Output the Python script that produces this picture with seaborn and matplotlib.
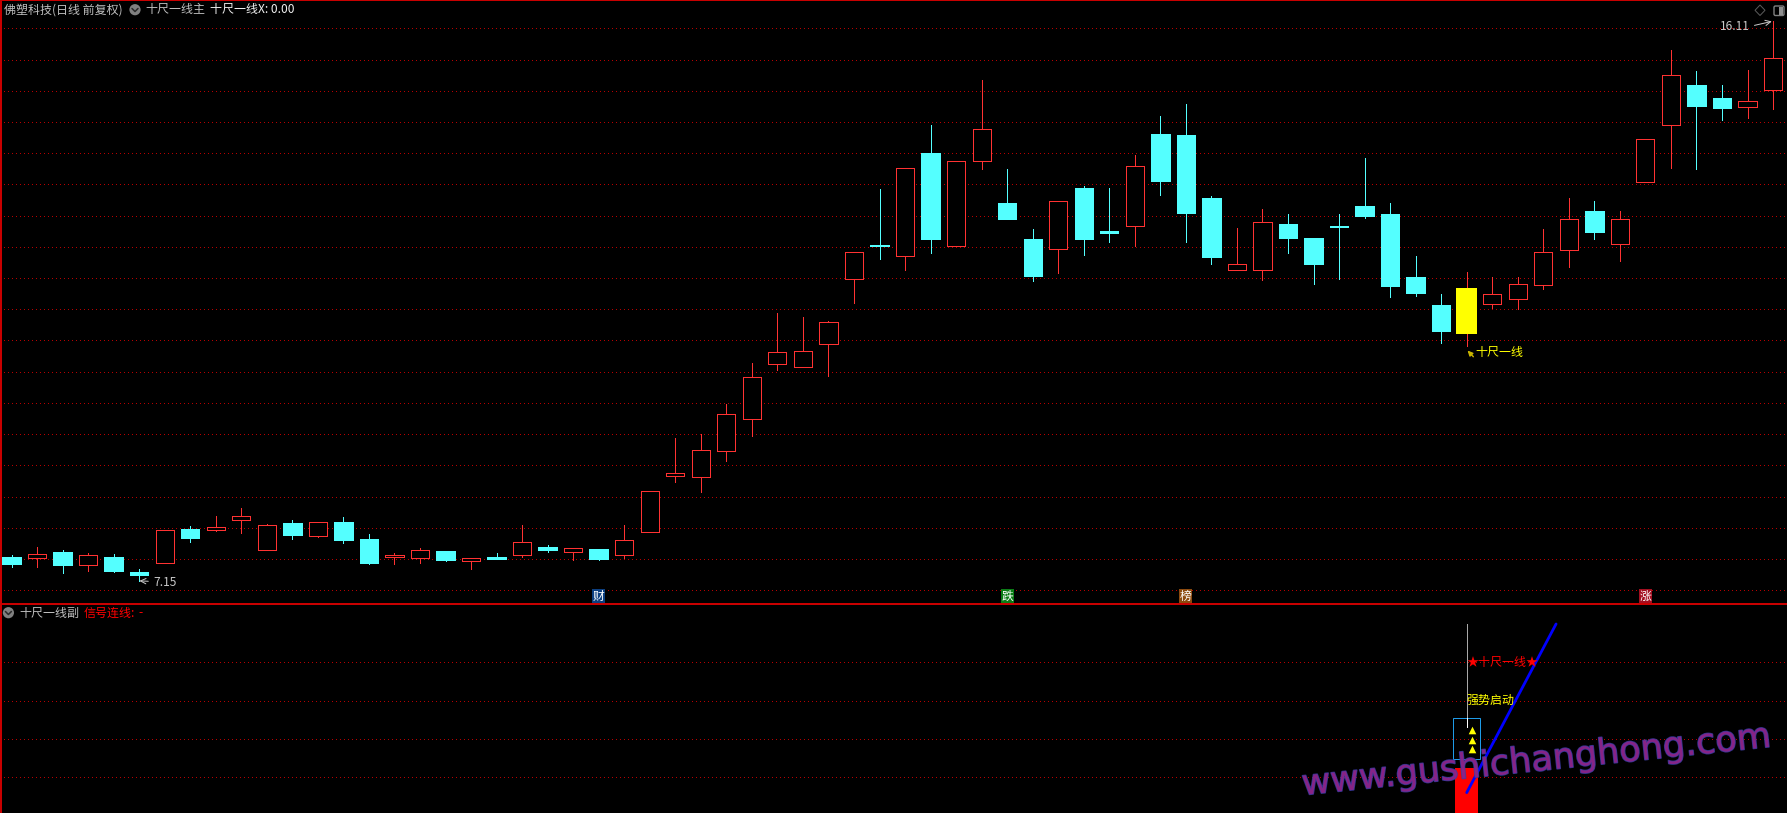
import numpy as np
import pandas as pd
import matplotlib
matplotlib.use("Agg")
import matplotlib.pyplot as plt
import matplotlib.patheffects as pe
from matplotlib.patches import Rectangle, Circle, Polygon, FancyBboxPatch
import seaborn as sns

# ---- daily candles (prices) ----
opens = [7.53,7.52,7.61,7.40,7.53,7.29,7.43,7.98,7.97,8.13,7.65,8.08,7.87,8.09,7.82,7.53,7.51,7.63,7.47,7.53,
         7.56,7.69,7.62,7.66,7.56,7.93,8.83,8.81,9.23,9.74,10.62,10.57,10.94,11.98,12.53,12.35,14.01,12.52,13.88,13.20,
         12.62,12.46,13.44,12.75,12.83,14.30,14.29,13.29,12.13,12.13,12.86,12.64,12.83,13.15,13.02,12.01,11.57,11.10,11.59,11.67,
         11.89,12.45,13.07,12.54,13.54,14.45,15.09,14.89,14.74,15.01]
closes = [7.42,7.58,7.41,7.56,7.31,7.25,7.96,7.84,8.01,8.19,8.04,7.89,8.09,7.81,7.44,7.57,7.65,7.49,7.52,7.50,
          7.77,7.65,7.68,7.50,7.80,8.59,8.87,9.24,9.82,10.41,10.81,10.83,11.29,12.41,12.51,13.77,12.62,13.88,14.38,12.94,
          12.03,13.23,12.62,12.72,13.79,13.55,13.04,12.33,12.22,12.89,12.64,12.22,12.82,12.99,11.87,11.76,11.15,11.84,11.74,11.90,
          12.41,12.94,12.73,12.94,14.23,15.26,14.75,14.72,14.83,15.53]
highs = [7.57,7.69,7.65,7.60,7.58,7.34,7.96,8.03,8.19,8.32,8.06,8.13,8.09,8.17,7.90,7.60,7.68,7.63,7.52,7.60,
         8.05,7.73,7.68,7.66,8.05,8.59,9.44,9.50,9.98,10.64,11.44,11.37,11.32,12.41,13.42,13.77,14.45,13.88,15.18,13.74,
         12.78,13.23,13.47,13.45,13.97,14.59,14.78,13.31,12.80,13.10,13.02,12.64,13.02,13.92,13.21,12.35,11.74,12.09,12.01,12.01,
         12.78,13.29,13.23,13.07,14.23,15.65,15.31,15.09,15.33,16.11]
lows = [7.37,7.37,7.27,7.31,7.29,7.15,7.43,7.77,7.95,7.92,7.65,7.82,7.85,7.76,7.42,7.42,7.44,7.47,7.34,7.50,
        7.53,7.61,7.49,7.49,7.52,7.93,8.74,8.58,9.07,9.47,10.53,10.57,10.43,11.60,12.30,12.13,12.40,12.52,13.74,12.94,
        11.95,12.08,12.37,12.57,12.51,13.33,12.57,12.22,12.13,11.97,12.40,11.90,11.98,12.96,11.69,11.71,10.96,10.91,11.52,11.50,
        11.82,12.17,12.62,12.27,13.54,13.76,13.74,14.53,14.56,14.70]
signal_index = 57
grid_prices = [16.0,15.5,15.0,14.5,14.0,13.5,13.0,12.5,12.0,11.5,11.0,10.5,10.0,9.5,9.0,8.5,8.0,7.5,7.0]

# ---- event badges ----
badge_labels = ["财","跌","榜","涨"]
badge_index = [23,39,46,64]
badge_colors = ["#0C3F80","#0B7D16","#8C4A0E","#A30F20"]

# ---- lower panel ----
lower_grid = [80,60,40,20]
signal_bar = 25
trend_x = [57,60.5]
trend_y = [12,100]
stem_top, stem_bottom = 100, 46.4
box_low, box_high = 29.4, 51
arrows_x = [57.2,57.2,57.2]
arrows_y = [44.8,39.6,34.9]

RED, CYAN, YEL, GRID = "#FF3232", "#54FFFF", "#FFFF00", "#B80000"
W, H = 1787, 813
PITCH, X0 = 25.53, 11.5

sns.set_theme(style="dark", rc={"figure.facecolor":"black","axes.facecolor":"black","savefig.facecolor":"black",
                                "axes.edgecolor":"black","text.color":"#C0C0C0"})
plt.rcParams["font.family"] = ["Noto Sans CJK SC","DejaVu Sans"]
FS = 8.64
LW = 0.72

df = pd.DataFrame({"open":opens,"high":highs,"low":lows,"close":closes})
df["i"] = np.arange(len(df))
df["up"] = df.close >= df.open

fig = plt.figure(figsize=(W/100,H/100), dpi=100)
ax = fig.add_axes([0,(H-604)/H,1,604/H])
ax2 = fig.add_axes([0,0,1,(H-605)/H])
ov = fig.add_axes([0,0,1,1], zorder=10)
xlim = (-X0/PITCH,(W-X0)/PITCH)
ax.set_xlim(xlim); ax.set_ylim(16-(604-28.3)/62.44,16+28.3/62.44)
ax2.set_xlim(xlim); ax2.set_ylim(1.37,109.9)
ov.set_xlim(0,W); ov.set_ylim(H,0); ov.axis("off"); ov.patch.set_alpha(0)

for a,ticks in ((ax,grid_prices),(ax2,lower_grid)):
    a.set_xticks([]); a.set_yticks(ticks); a.tick_params(left=False,labelleft=False)
    a.grid(False)
    for t in ticks:
        a.axhline(t,color=GRID,lw=LW,ls=(0,(1,3)),zorder=1,antialiased=False)
    sns.despine(ax=a,left=True,bottom=True)

# candles
for up,col,g in ((True,RED,df[df.up]),(False,CYAN,df[~df.up])):
    ax.vlines(g.i,g.low,g.high,color=col,lw=LW,zorder=2,antialiased=False)
up = df[df.up & (df.i!=signal_index)]
dn = df[~df.up]
ax.bar(up.i,up.close-up.open,bottom=up.open,width=0.71,facecolor="black",edgecolor=RED,lw=LW,zorder=3,antialiased=False)
ax.bar(dn.i,dn.open-dn.close,bottom=dn.close,width=0.72,facecolor=CYAN,edgecolor=CYAN,lw=LW,zorder=3,antialiased=False)
s = df.iloc[signal_index]
ax.bar([s.i],[s.close-s.open],bottom=[s.open],width=0.82,color=YEL,lw=0,zorder=3)

# price marks
arrow = dict(arrowstyle="->,head_length=0.45,head_width=0.22",color="#C8C8C8",lw=LW,shrinkB=0)
ax.annotate("16.11",xy=(68.95,16.11),xytext=(66.92,16.03),fontsize=FS,color="#C8C8C8",va="center",ha="left",
            arrowprops=dict(arrow,relpos=(1,0.5),shrinkA=1),zorder=6)
ax.annotate("7.15",xy=(5.01,7.15),xytext=(5.54,7.12),fontsize=FS,color="#C8C8C8",va="center",ha="left",
            arrowprops=dict(arrow,relpos=(0,0.6),shrinkA=1),zorder=6)
ax.annotate("",xy=(57.03,10.84),xytext=(57.26,10.74),
            arrowprops=dict(arrowstyle="-|>,head_length=0.25,head_width=0.12",color="#C8B400",lw=1,shrinkA=0,shrinkB=0),zorder=6)
ax.text(57.33,10.80,"十尺一线",fontsize=FS,color=YEL,va="center",ha="left",zorder=6)

# badges
for idx,lab,c in zip(badge_index,badge_labels,badge_colors):
    ax.text(idx,6.90,lab,fontsize=8.5,color="white",ha="center",va="center",zorder=6,
            bbox=dict(boxstyle="square,pad=0.06",fc=c,ec="none"))

# lower panel
ax2.bar([signal_index],[signal_bar],width=0.9,color="#FF0000",lw=0,zorder=3)
ax2.vlines(signal_index,stem_bottom,stem_top,color="#A8A8A8",lw=LW,zorder=4,antialiased=False)
ax2.vlines(signal_index,stem_bottom,box_high,color="white",lw=LW,zorder=5,antialiased=False)
ax2.add_patch(Rectangle((signal_index-0.525,box_low),1.035,box_high-box_low,fc="none",ec="#1E9BE8",lw=LW,zorder=4))
sns.scatterplot(x=arrows_x,y=arrows_y,ax=ax2,marker="^",color=YEL,s=30,linewidth=0,zorder=5,legend=False)
sns.lineplot(x=trend_x,y=trend_y,ax=ax2,color="#0000FF",lw=2.0,zorder=6,legend=False,errorbar=None)
ax2.set_xlim(xlim); ax2.set_ylim(1.37,109.9); ax2.set_xlabel(""); ax2.set_ylabel("")

# frame lines
ov.add_line(plt.Line2D([0,W],[604.4,604.4],color="#C80000",lw=1.1,antialiased=False))
ov.add_line(plt.Line2D([0,W],[0.5,0.5],color="#C80000",lw=1.1,antialiased=False))
ov.add_line(plt.Line2D([0.5,0.5],[0,H],color="#C80000",lw=1.1,antialiased=False))

# headers
def chevron(cx,cy):
    ov.add_patch(Circle((cx,cy),5.6,fc="#808080",ec="none"))
    ov.plot([cx-3,cx,cx+3],[cy-1.2,cy+1.8,cy-1.2],color="#2A2A2A",lw=1.1)
chevron(135,9.7); chevron(8.4,612.7)
ov.text(4,10,"佛塑科技(日线 前复权)",fontsize=FS,color="#BEBEBE",va="center")
ov.text(145,10,"十尺一线主",fontsize=FS,color="#BEBEBE",va="center")
ov.text(210,10,"十尺一线X: 0.00",fontsize=FS,color="#F0F0F0",va="center")
ov.text(19,613,"十尺一线副",fontsize=FS,color="#BEBEBE",va="center")
ov.text(84,613,"信号连线:",fontsize=FS,color="#FF0000",va="center")
ov.text(138,613,"-",fontsize=FS,color="#FF0000",va="center")
ov.text(1467,662,"★十尺一线★",fontsize=FS,color="#FF0000",va="center")
ov.text(1466,700,"强势启动",fontsize=FS,color=YEL,va="center")

# top right icons
ov.add_patch(Polygon([(1760,5),(1765,10.3),(1760,15.5),(1755,10.3)],fc="none",ec="#5A5A5A",lw=LW))
ov.add_patch(FancyBboxPatch((1774,6),10,9.5,boxstyle="round,pad=0,rounding_size=1.5",fc="none",ec="#808080",lw=1))
ov.add_patch(Rectangle((1779,7),4,8,fc="#909090",ec="none"))

# watermark
ov.text(1303,795,"www.gushichanghong.com",fontsize=25.3,family="DejaVu Sans",color="#8C2488",alpha=0.85,
        rotation=5.9,rotation_mode="anchor",ha="left",va="baseline",zorder=20,
        path_effects=[pe.withStroke(linewidth=1.2,foreground="#3C3CA6")])

fig.savefig("out.png",dpi=100,facecolor="black")
